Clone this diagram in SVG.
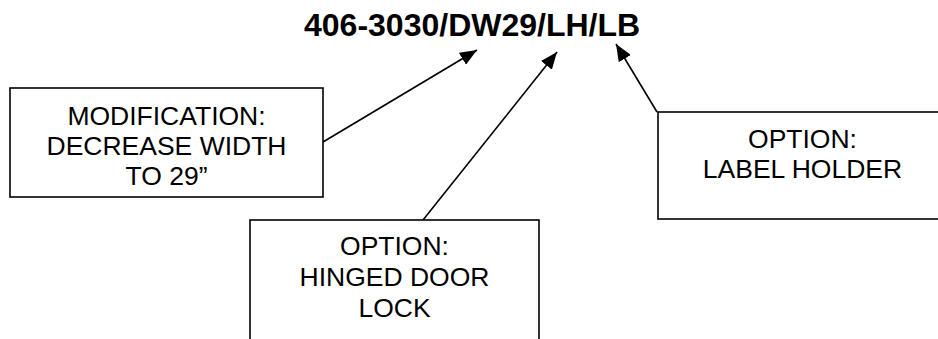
<svg xmlns="http://www.w3.org/2000/svg" width="938" height="339" viewBox="0 0 938 339">
<style>
  .box { fill: #fff; stroke: #000; stroke-width: 1.6; }
  .lbl { font-family: "Liberation Sans", Arial, sans-serif; font-size: 26.5px; fill: #000; text-anchor: middle; }
  .title { font-family: "Liberation Sans", Arial, sans-serif; font-size: 32px; font-weight: bold; fill: #000; }
  .conn { stroke: #000; stroke-width: 1.6; fill: none; marker-end: url(#ah); }
</style>
<defs>
  <marker id="ah" markerUnits="userSpaceOnUse" markerWidth="18" markerHeight="14" refX="17" refY="7" orient="auto">
    <path d="M0,0 L17,7 L0,14 Z" fill="#000"/>
  </marker>
</defs>
<rect width="938" height="339" fill="#fff"/>
<g id="title">
  <text class="title" x="304" y="36">406-3030/DW29/LH/LB</text>
</g>
<g id="connectors">
  <line class="conn" x1="323" y1="142" x2="477" y2="50"/>
  <line class="conn" x1="423" y1="220" x2="557" y2="52"/>
  <line class="conn" x1="657" y1="112" x2="616" y2="44"/>
</g>
<g id="node-modification">
  <rect class="box" x="10" y="88" width="313" height="109"/>
  <text class="lbl" x="166.5" y="125">MODIFICATION:</text>
  <text class="lbl" x="166.5" y="155">DECREASE WIDTH</text>
  <text class="lbl" x="166.5" y="185">TO 29”</text>
</g>
<g id="node-hinged">
  <rect class="box" x="250" y="220" width="289" height="130"/>
  <text class="lbl" x="394.5" y="255">OPTION:</text>
  <text class="lbl" x="394.5" y="286">HINGED DOOR</text>
  <text class="lbl" x="394.5" y="317">LOCK</text>
</g>
<g id="node-label">
  <rect class="box" x="658" y="112" width="289" height="107"/>
  <text class="lbl" x="802.5" y="148">OPTION:</text>
  <text class="lbl" x="802.5" y="178">LABEL HOLDER</text>
</g>
</svg>
